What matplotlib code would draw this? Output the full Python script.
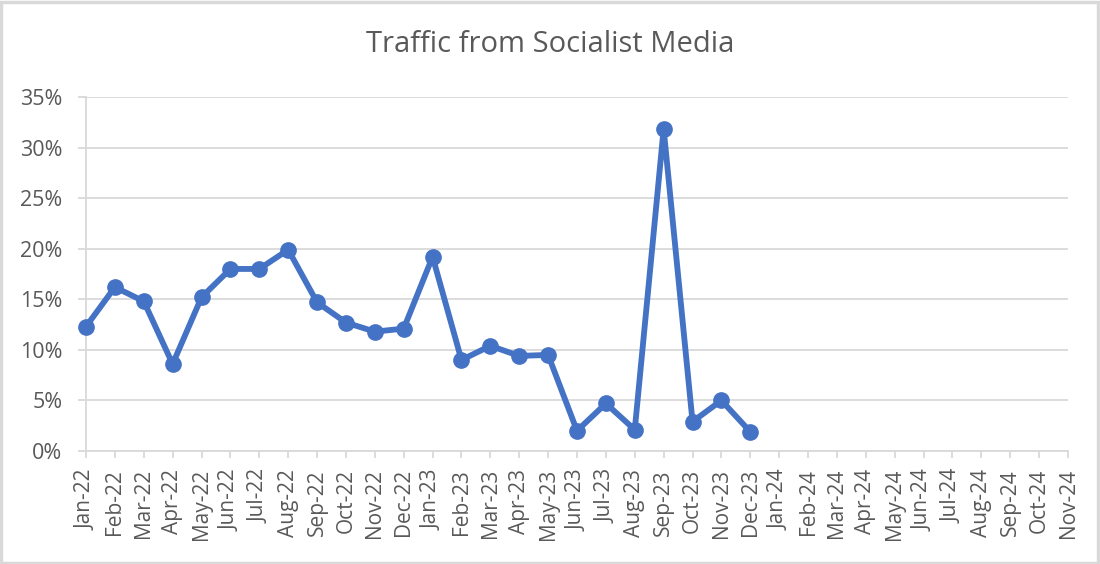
import matplotlib.pyplot as plt
from matplotlib.ticker import PercentFormatter
from matplotlib.patches import Rectangle

# months Jan-22 .. Nov-24 on the axis
months = ['Jan', 'Feb', 'Mar', 'Apr', 'May', 'Jun', 'Jul', 'Aug', 'Sep', 'Oct', 'Nov', 'Dec']
labels = [f'{m}-{y}' for y in ('22', '23', '24') for m in months][:35]

# values (percent), Jan-22 .. Dec-23
traffic = [12.3, 16.2, 14.8, 8.6, 15.2, 18.0, 18.0, 19.9, 14.7, 12.7, 11.8, 12.1,
           19.2, 9.0, 10.4, 9.4, 9.5, 2.0, 4.7, 2.1, 31.85, 2.9, 5.0, 1.9]

plt.rcParams['font.family'] = ['Open Sans', 'DejaVu Sans']
grey = '#595959'
light = '#D9D9D9'

fig = plt.figure(figsize=(11, 5.64), dpi=100)
ax = fig.add_axes([86 / 1100, 1 - 451 / 564, (1068 - 86) / 1100, (451 - 97) / 564])

x = list(range(len(traffic)))
ax.plot(x, traffic, color='#4472C4', linewidth=4.2, marker='o', markersize=11,
        solid_capstyle='round', solid_joinstyle='round', zorder=3, clip_on=False)

ax.set_xlim(0, len(labels) - 1)
ax.set_ylim(0, 35)
ax.set_yticks(range(0, 36, 5))
ax.yaxis.set_major_formatter(PercentFormatter(decimals=0))
ax.set_xticks(range(len(labels)))
ax.set_xticklabels(labels, rotation=90)

ax.grid(axis='y', color=light, linewidth=1.3)
ax.set_axisbelow(True)
for s in ('top', 'right'):
    ax.spines[s].set_visible(False)
for s in ('bottom', 'left'):
    ax.spines[s].set_color(light)
    ax.spines[s].set_linewidth(1.3)
ax.tick_params(axis='x', colors=light, labelcolor=grey, labelsize=15, length=5, width=1.3, pad=8)
ax.tick_params(axis='y', colors=light, labelcolor=grey, labelsize=15.5, length=6, width=1.3, pad=11)

fig.text(0.5, 1 - 44 / 564, 'Traffic from Socialist Media', ha='center', va='center',
         fontsize=21, color=grey)

fig.patches.append(Rectangle((0.001, 0.002), 0.997, 0.995, transform=fig.transFigure,
                             fill=False, edgecolor=light, linewidth=2.5))

fig.savefig('out.png', dpi=100)
